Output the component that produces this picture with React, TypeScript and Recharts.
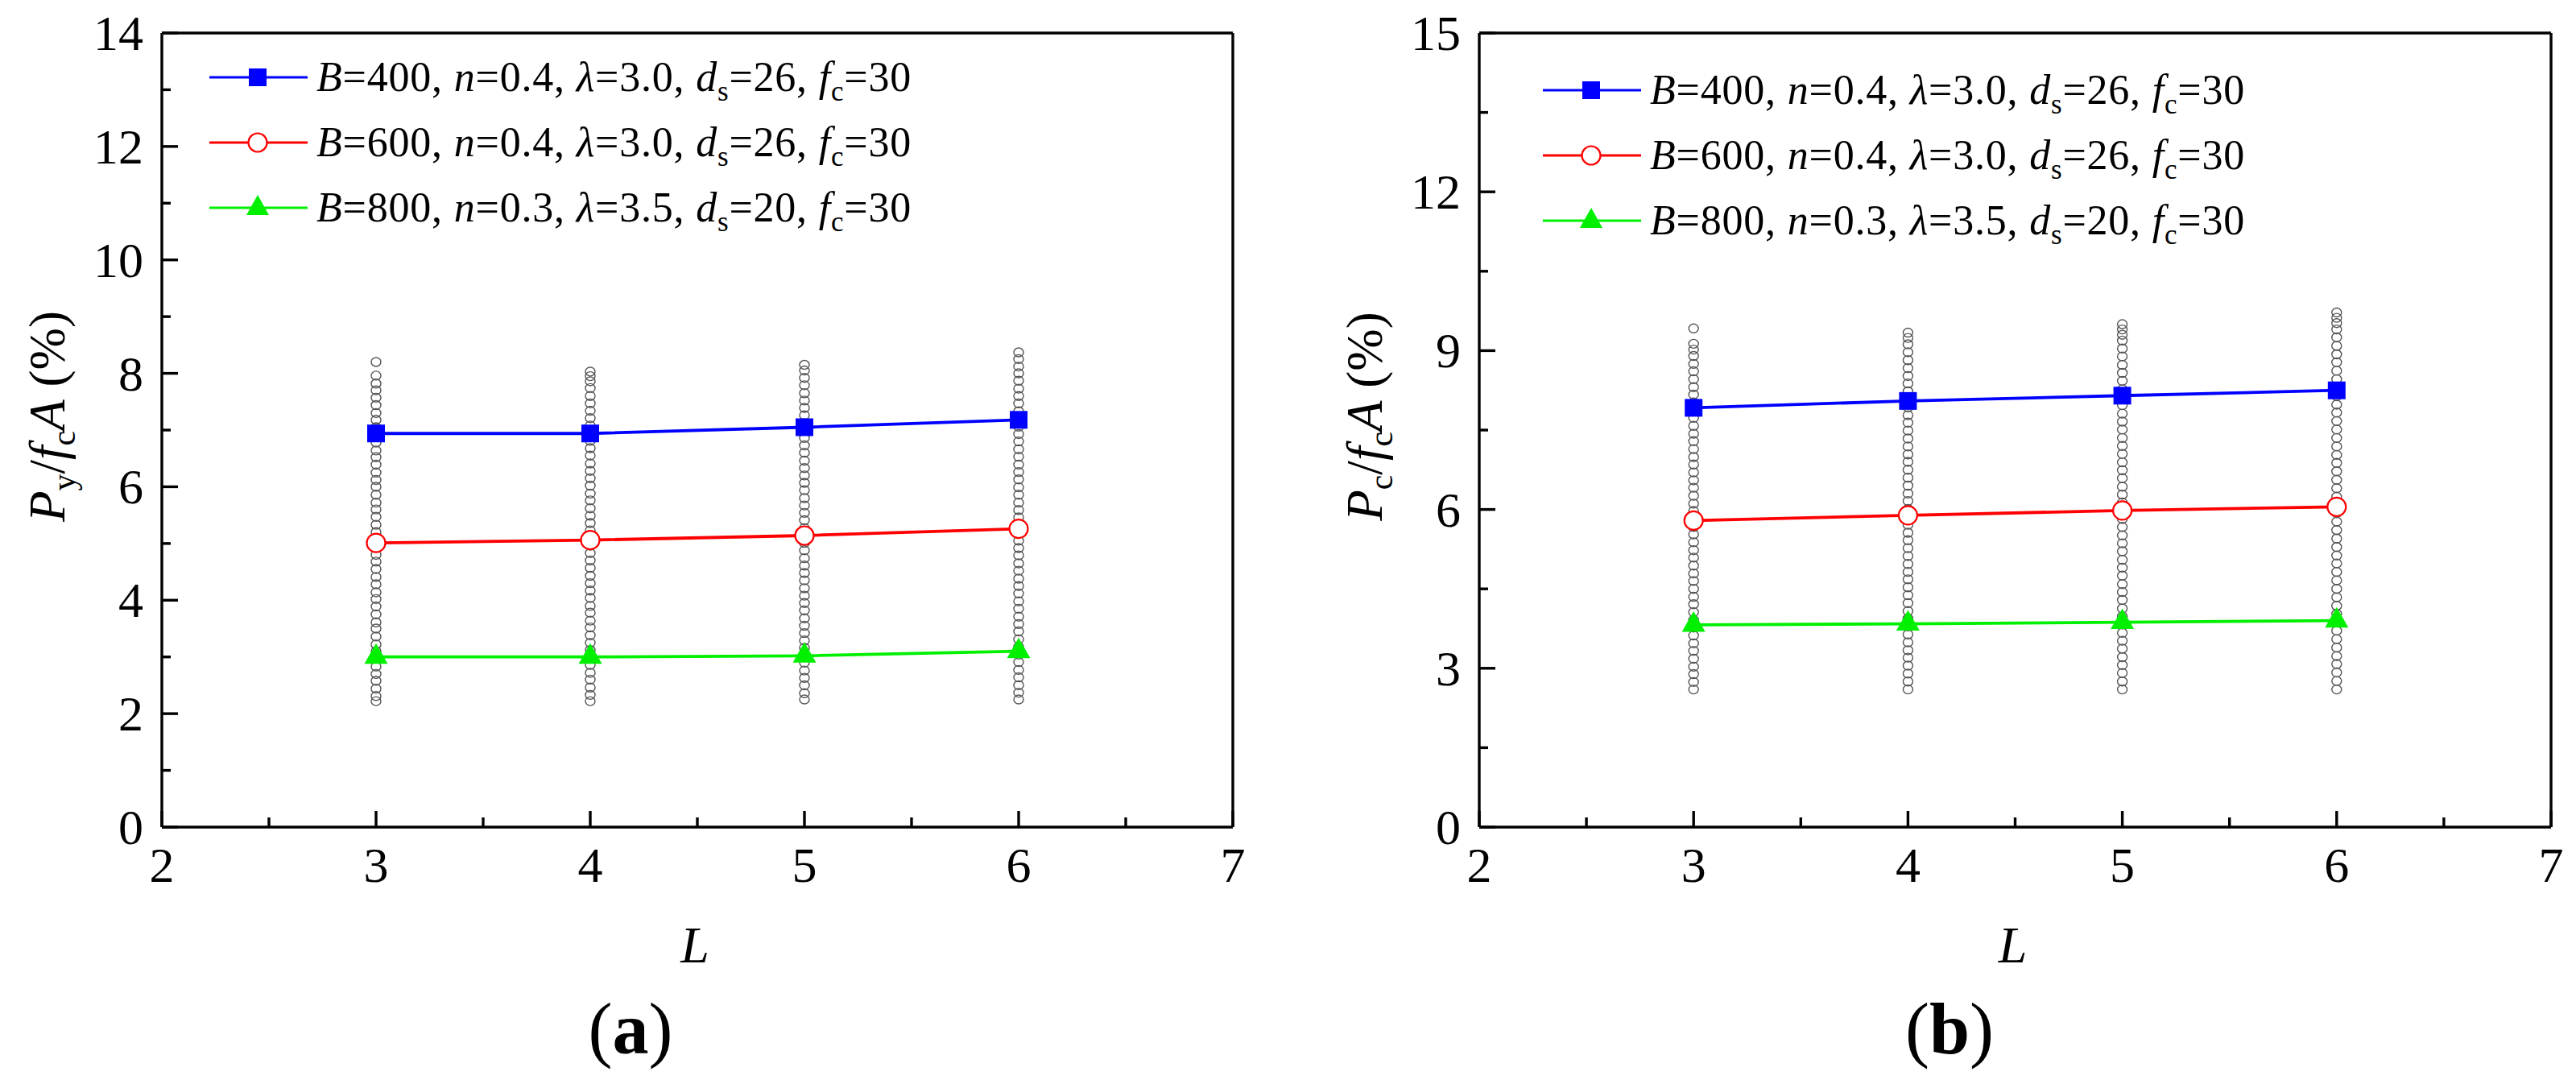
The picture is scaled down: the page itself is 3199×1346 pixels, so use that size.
import React from 'react';
import { ScatterChart, Scatter, XAxis, YAxis, ReferenceLine, Legend } from 'recharts';

const FONT = '"Liberation Serif", "Times New Roman", Times, serif';
const BLUE = '#0000ff';
const RED = '#ff0000';
const GREEN = '#00f000';
const GRAY = '#555555';

// categories (L)
const lengths = [3, 4, 5, 6];

// ticks
const xTicks = [2, 2.5, 3, 3.5, 4, 4.5, 5, 5.5, 6, 6.5, 7];
const xMajor = [2, 3, 4, 5, 6, 7];
const yTicksA = [0, 1, 2, 3, 4, 5, 6, 7, 8, 9, 10, 11, 12, 13, 14];
const yMajorA = [0, 2, 4, 6, 8, 10, 12, 14];
const yTicksB = [0, 1.5, 3, 4.5, 6, 7.5, 9, 10.5, 12, 13.5, 15];
const yMajorB = [0, 3, 6, 9, 12, 15];

// legend parameters
const legendB = ['400', '600', '800'];
const legendN = ['0.4', '0.4', '0.3'];
const legendLambda = ['3.0', '3.0', '3.5'];
const legendDs = ['26', '26', '20'];
const legendFc = ['30', '30', '30'];

// panel (a) series: Py/fcA (%)
const a400 = [6.94, 6.94, 7.05, 7.18];
const a600 = [5.01, 5.06, 5.14, 5.26];
const a800 = [3.0, 3.0, 3.02, 3.1];

// panel (b) series: Pc/fcA (%)
const b400 = [7.92, 8.05, 8.15, 8.25];
const b600 = [5.79, 5.89, 5.98, 6.05];
const b800 = [3.82, 3.84, 3.87, 3.9];

// panel (a) gray sample columns
const aCol3 = [2.22, 2.31, 2.44, 2.58, 2.7, 2.83, 2.97, 3.1, 3.22, 3.36, 3.5, 3.61, 3.75, 3.89, 4.02, 4.14, 4.28, 4.41, 4.55, 4.68, 4.8, 4.94, 5.08, 5.2, 5.33, 5.47, 5.6, 5.72, 5.86, 6.0, 6.12, 6.25, 6.39, 6.52, 6.64, 6.78, 6.91, 7.05, 7.18, 7.3, 7.44, 7.57, 7.7, 7.82, 7.96, 8.2];
const aCol4 = [2.22, 2.33, 2.46, 2.6, 2.72, 2.86, 2.99, 3.12, 3.25, 3.38, 3.52, 3.64, 3.78, 3.9, 4.04, 4.17, 4.3, 4.43, 4.57, 4.7, 4.83, 4.96, 5.1, 5.23, 5.36, 5.49, 5.62, 5.76, 5.88, 6.02, 6.15, 6.28, 6.41, 6.55, 6.68, 6.81, 6.94, 7.08, 7.21, 7.34, 7.47, 7.6, 7.74, 7.86, 7.95, 8.03];
const aCol5 = [2.25, 2.36, 2.5, 2.63, 2.76, 2.9, 3.02, 3.16, 3.29, 3.42, 3.55, 3.68, 3.82, 3.95, 4.08, 4.21, 4.35, 4.48, 4.61, 4.74, 4.88, 5.01, 5.14, 5.27, 5.41, 5.54, 5.67, 5.8, 5.94, 6.07, 6.2, 6.33, 6.46, 6.6, 6.73, 6.86, 6.99, 7.12, 7.26, 7.39, 7.52, 7.65, 7.79, 7.92, 8.05, 8.15];
const aCol6 = [2.25, 2.37, 2.5, 2.64, 2.77, 2.91, 3.04, 3.18, 3.31, 3.45, 3.58, 3.71, 3.85, 3.98, 4.12, 4.25, 4.38, 4.52, 4.65, 4.79, 4.92, 5.05, 5.19, 5.32, 5.46, 5.59, 5.72, 5.86, 5.99, 6.13, 6.26, 6.39, 6.53, 6.66, 6.8, 6.93, 7.06, 7.2, 7.33, 7.47, 7.6, 7.73, 7.87, 8.0, 8.12, 8.25, 8.37];

// panel (b) gray sample columns
const bCol3 = [2.6, 2.74, 2.89, 3.03, 3.18, 3.33, 3.47, 3.62, 3.77, 3.91, 4.06, 4.21, 4.35, 4.5, 4.65, 4.79, 4.94, 5.09, 5.23, 5.38, 5.53, 5.67, 5.82, 5.97, 6.11, 6.26, 6.41, 6.55, 6.7, 6.85, 6.99, 7.14, 7.29, 7.43, 7.58, 7.73, 7.87, 8.02, 8.17, 8.31, 8.46, 8.61, 8.75, 8.9, 9.02, 9.13, 9.42];
const bCol4 = [2.6, 2.75, 2.9, 3.05, 3.2, 3.34, 3.49, 3.64, 3.79, 3.94, 4.08, 4.23, 4.38, 4.53, 4.68, 4.82, 4.97, 5.12, 5.27, 5.42, 5.56, 5.71, 5.86, 6.01, 6.16, 6.3, 6.45, 6.6, 6.75, 6.9, 7.04, 7.19, 7.34, 7.49, 7.64, 7.78, 7.93, 8.08, 8.23, 8.38, 8.52, 8.67, 8.82, 8.97, 9.12, 9.24, 9.34];
const bCol5 = [2.6, 2.75, 2.91, 3.06, 3.21, 3.37, 3.52, 3.67, 3.83, 3.98, 4.13, 4.29, 4.44, 4.59, 4.75, 4.9, 5.05, 5.21, 5.36, 5.51, 5.67, 5.82, 5.97, 6.13, 6.28, 6.43, 6.59, 6.74, 6.89, 7.05, 7.2, 7.35, 7.51, 7.66, 7.81, 7.97, 8.12, 8.27, 8.43, 8.58, 8.73, 8.89, 9.04, 9.19, 9.3, 9.4, 9.5];
const bCol6 = [2.6, 2.76, 2.92, 3.08, 3.23, 3.39, 3.55, 3.71, 3.87, 4.03, 4.18, 4.34, 4.5, 4.66, 4.82, 4.98, 5.13, 5.29, 5.45, 5.61, 5.77, 5.93, 6.08, 6.24, 6.4, 6.56, 6.72, 6.88, 7.03, 7.19, 7.35, 7.51, 7.67, 7.83, 7.98, 8.14, 8.3, 8.46, 8.62, 8.78, 8.93, 9.09, 9.25, 9.4, 9.52, 9.62, 9.72];

const toPoints = (vals: number[]) => lengths.map((L, i) => ({ x: L, y: vals[i] }));
const toCloud = (cols: number[][]) =>
  lengths.flatMap((L, i) => cols[i].map((v) => ({ x: L, y: v })));

const AXIS_W = 3.4;
const Y_AXIS_W = 60;
const X_AXIS_H = 60;
const SERIES_W = 3.8;

const makeXTick = (majors: number[]) => (props: any) => {
  const { x, y, payload } = props;
  const major = majors.includes(payload.value);
  return (
    <g>
      <line x1={x} x2={x} y1={y} y2={y - (major ? 20 : 12)} stroke="#000" strokeWidth={AXIS_W} />
      {major && (
        <text x={x} y={y + 68} textAnchor="middle" fontSize={62} fontFamily={FONT} fill="#000">
          {payload.value}
        </text>
      )}
    </g>
  );
};

const makeYTick = (majors: number[]) => (props: any) => {
  const { x, y, payload } = props;
  const major = majors.includes(payload.value);
  return (
    <g>
      <line x1={x} x2={x + (major ? 20 : 11)} y1={y} y2={y} stroke="#000" strokeWidth={AXIS_W} />
      {major && (
        <text x={x - 23} y={y + 21} textAnchor="end" fontSize={62} fontFamily={FONT} fill="#000">
          {payload.value}
        </text>
      )}
    </g>
  );
};

const GrayDot = (p: any) => (
  <ellipse cx={p.cx} cy={p.cy} rx={6} ry={5.5} fill="none" stroke={GRAY} strokeWidth={1.4} />
);
const SquareDot = (p: any) => <rect x={p.cx - 11} y={p.cy - 11} width={22} height={22} fill={BLUE} />;
const CircleDot = (p: any) => (
  <circle cx={p.cx} cy={p.cy} r={11.5} fill="#fff" stroke={RED} strokeWidth={2.2} />
);
const TriDot = (p: any) => (
  <polygon
    points={`${p.cx},${p.cy - 17} ${p.cx - 14.5},${p.cy + 8.5} ${p.cx + 14.5},${p.cy + 8.5}`}
    fill={GREEN}
  />
);

const LegendIcon = ({ i, y }: { i: number; y: number }) => {
  const color = [BLUE, RED, GREEN][i];
  const cx = 70;
  return (
    <g>
      <line x1={10} x2={132} y1={y} y2={y} stroke={color} strokeWidth={3} />
      {i === 0 && <rect x={cx - 11} y={y - 11} width={22} height={22} fill={BLUE} />}
      {i === 1 && <circle cx={cx} cy={y} r={11.5} fill="#fff" stroke={RED} strokeWidth={2.2} />}
      {i === 2 && (
        <polygon points={`${cx},${y - 16} ${cx - 14},${y + 9} ${cx + 14},${y + 9}`} fill={GREEN} />
      )}
    </g>
  );
};

const LegendBox = () => {
  const rows = [0, 1, 2];
  return (
    <svg width={900} height={250} style={{ display: 'block', overflow: 'visible' }}>
      {rows.map((i) => {
        const y = 46 + i * 81;
        return (
          <g key={i}>
            <LegendIcon i={i} y={y} />
            <text x={143} y={y + 17} fontSize={52} letterSpacing={0.8} fontFamily={FONT} fill="#000">
              <tspan fontStyle="italic">B</tspan>
              <tspan>{'=' + legendB[i] + ', '}</tspan>
              <tspan fontStyle="italic">n</tspan>
              <tspan>{'=' + legendN[i] + ', '}</tspan>
              <tspan fontStyle="italic">λ</tspan>
              <tspan>{'=' + legendLambda[i] + ', '}</tspan>
              <tspan fontStyle="italic">d</tspan>
              <tspan fontSize={35} dy={12}>s</tspan>
              <tspan dy={-12}>{'=' + legendDs[i] + ', '}</tspan>
              <tspan fontStyle="italic">f</tspan>
              <tspan fontSize={35} dy={12}>c</tspan>
              <tspan dy={-12}>{'=' + legendFc[i]}</tspan>
            </text>
          </g>
        );
      })}
    </svg>
  );
};

type PanelProps = {
  left: number;
  plotLeft: number;
  plotRight: number;
  yMax: number;
  yTicks: number[];
  yMajor: number[];
  s400: number[];
  s600: number[];
  s800: number[];
  cloud: number[][];
  ySub: string;
  legendPos: { left: number; top: number };
  caption: string;
  captionX: number;
};

const W = 1600;
const H = 1346;
const PLOT_TOP = 41;
const PLOT_BOTTOM = 1027;

const Panel = (p: PanelProps) => {
  const yLabel = (props: any) => {
    const vb = props.viewBox || {};
    const axisX = vb.x + vb.width;
    const cx = axisX - 121;
    const cy = vb.y + vb.height / 2 - 17;
    return (
      <text
        x={cx}
        y={cy}
        transform={`rotate(-90, ${cx}, ${cy})`}
        textAnchor="middle"
        fontSize={63}
        fontFamily={FONT}
        fill="#000"
      >
        <tspan fontStyle="italic">P</tspan>
        <tspan fontSize={42} dy={13}>{p.ySub}</tspan>
        <tspan dy={-13}>/</tspan>
        <tspan fontStyle="italic">f</tspan>
        <tspan fontSize={42} dy={13}>c</tspan>
        <tspan dy={-13} fontStyle="italic">A</tspan>
        <tspan>{' (%)'}</tspan>
      </text>
    );
  };
  const xLabel = (props: any) => {
    const vb = props.viewBox || {};
    return (
      <text
        x={vb.x + vb.width / 2 - 3}
        y={vb.y + 168}
        textAnchor="middle"
        fontSize={64}
        fontStyle="italic"
        fontFamily={FONT}
        fill="#000"
      >
        L
      </text>
    );
  };
  const margin = {
    top: PLOT_TOP,
    right: W - p.plotRight,
    bottom: H - PLOT_BOTTOM - X_AXIS_H,
    left: p.plotLeft - Y_AXIS_W,
  };
  return (
    <div style={{ position: 'absolute', left: p.left, top: 0, width: W, height: H }}>
      <ScatterChart width={W} height={H} margin={margin}>
        <XAxis
          type="number"
          dataKey="x"
          domain={[2, 7]}
          ticks={xTicks}
          interval={0}
          height={X_AXIS_H}
          tickSize={0}
          tickMargin={0}
          tickLine={false}
          tick={makeXTick(xMajor)}
          axisLine={{ stroke: '#000', strokeWidth: AXIS_W }}
          label={{ content: xLabel }}
        />
        <YAxis
          type="number"
          dataKey="y"
          domain={[0, p.yMax]}
          ticks={p.yTicks}
          interval={0}
          width={Y_AXIS_W}
          tickSize={0}
          tickMargin={0}
          tickLine={false}
          tick={makeYTick(p.yMajor)}
          axisLine={{ stroke: '#000', strokeWidth: AXIS_W }}
          label={{ content: yLabel }}
        />
        <ReferenceLine y={p.yMax} stroke="#000" strokeWidth={AXIS_W} />
        <ReferenceLine x={7} stroke="#000" strokeWidth={AXIS_W} />
        <Scatter data={toCloud(p.cloud)} shape={GrayDot} isAnimationActive={false} />
        <Scatter
          data={toPoints(p.s800)}
          shape={TriDot}
          line={{ stroke: GREEN, strokeWidth: SERIES_W }}
          lineType="joint"
          isAnimationActive={false}
        />
        <Scatter
          data={toPoints(p.s600)}
          shape={CircleDot}
          line={{ stroke: RED, strokeWidth: SERIES_W }}
          lineType="joint"
          isAnimationActive={false}
        />
        <Scatter
          data={toPoints(p.s400)}
          shape={SquareDot}
          line={{ stroke: BLUE, strokeWidth: SERIES_W }}
          lineType="joint"
          isAnimationActive={false}
        />
        <Legend
          layout="vertical"
          align="center"
          verticalAlign="middle"
          content={() => <LegendBox />}
          wrapperStyle={{ position: 'absolute', left: p.legendPos.left, top: p.legendPos.top, width: 900, height: 250 }}
        />
      </ScatterChart>
      <svg
        width={400}
        height={120}
        style={{ position: 'absolute', left: p.captionX - 200, top: 1220 }}
      >
        <text x={200} y={88} textAnchor="middle" fontSize={90} fontFamily={FONT} fill="#000">
          <tspan>(</tspan>
          <tspan fontWeight="bold">{p.caption}</tspan>
          <tspan>)</tspan>
        </text>
      </svg>
    </div>
  );
};

export default function App() {
  return (
    <div
      style={{
        position: 'absolute',
        left: 0,
        top: 0,
        width: 3199,
        height: 1346,
        background: '#fff',
        overflow: 'hidden',
      }}
    >
      <Panel
        left={0}
        plotLeft={201}
        plotRight={1531}
        yMax={14}
        yTicks={yTicksA}
        yMajor={yMajorA}
        s400={a400}
        s600={a600}
        s800={a800}
        cloud={[aCol3, aCol4, aCol5, aCol6]}
        ySub="y"
        legendPos={{ left: 250, top: 50 }}
        caption="a"
        captionX={783}
      />
      <Panel
        left={1600}
        plotLeft={237}
        plotRight={1568}
        yMax={15}
        yTicks={yTicksB}
        yMajor={yMajorB}
        s400={b400}
        s600={b600}
        s800={b800}
        cloud={[bCol3, bCol4, bCol5, bCol6]}
        ySub="c"
        legendPos={{ left: 306, top: 66 }}
        caption="b"
        captionX={821}
      />
    </div>
  );
}
